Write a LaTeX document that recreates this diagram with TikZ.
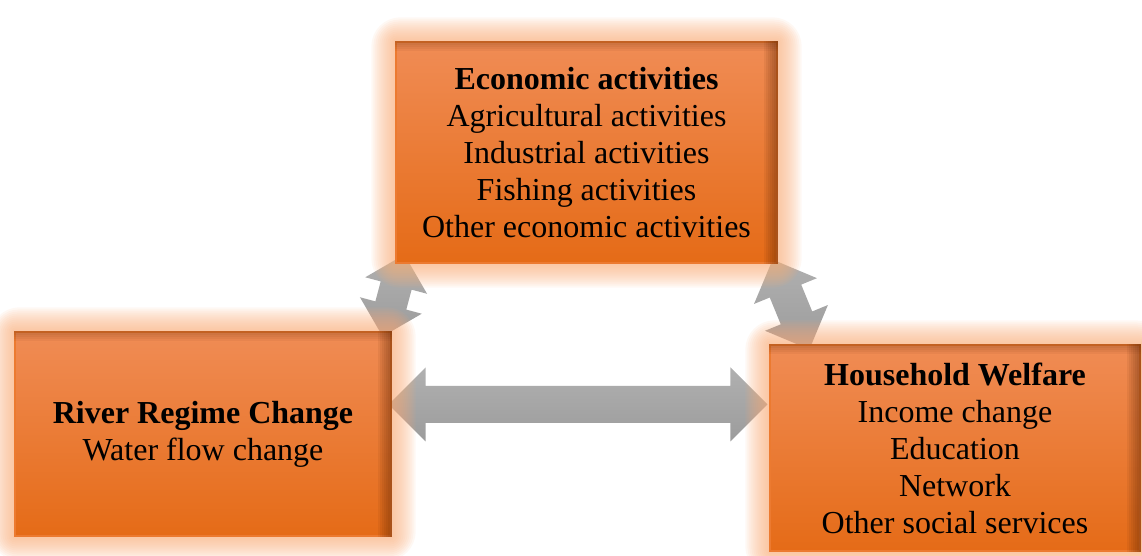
\documentclass[tikz,border=0pt]{standalone}
\usepackage{fontspec}
\setmainfont{Liberation Serif}
\usetikzlibrary{calc,backgrounds}

\definecolor{boxtop}{HTML}{F08C55}
\definecolor{boxbot}{HTML}{E56B17}
\definecolor{boxline}{HTML}{EC7A30}
\definecolor{glowc}{HTML}{F9AC78}
\definecolor{shadowc}{HTML}{5A2404}
\definecolor{arrtop}{HTML}{B0B0B0}
\definecolor{arrbot}{HTML}{9C9C9C}

\tikzset{
  factor/.style={rectangle, draw=boxline, line width=0.6pt,
    top color=boxtop, bottom color=boxbot, align=center, inner sep=0pt,
    font=\fontsize{16}{18.5}\selectfont},
}

% block arrow with a head at both ends, #3 = half width of the heads (pt)
\newcommand\twoway[3]{%
  \pgfmathanglebetweenpoints{\pgfpointanchor{#1}{center}}{\pgfpointanchor{#2}{center}}%
  \let\arrang\pgfmathresult
  \pgfpointdiff{\pgfpointanchor{#1}{center}}{\pgfpointanchor{#2}{center}}%
  \pgfgetlastxy{\dx}{\dy}%
  \pgfmathveclen{\dx}{\dy}\let\arrlen\pgfmathresult
  \begin{scope}[shift={(#1)}, rotate=\arrang, x=1pt, y=1pt]
    \shade[top color=arrtop, bottom color=arrbot]
      (0,0) -- (#3,#3) -- (#3,#3/2) -- ({\arrlen-#3},#3/2) -- ({\arrlen-#3},#3)
      -- (\arrlen,0) -- ({\arrlen-#3},-#3) -- ({\arrlen-#3},-#3/2)
      -- (#3,-#3/2) -- (#3,-#3) -- cycle;
  \end{scope}}

% soft orange halo round a box
\newcommand\glow[1]{%
  \foreach \i in {1,...,12}
    \fill[glowc, opacity=0.085, rounded corners=1.2*\i pt]
      ($(#1.north west)+(-2*\i,-2*\i)$) rectangle ($(#1.south east)+(2*\i,2*\i)$);}

% dark band inside the top and right edges
\newcommand\innershade[1]{%
  \foreach \i in {1,...,7}
    \fill[shadowc, opacity=0.08] ($(#1.north east)+(-2*\i,0)$) rectangle (#1.south east);
  \foreach \i in {1,...,5}
    \fill[shadowc, opacity=0.06] (#1.north west) rectangle ($(#1.north east)+(0,2*\i)$);}

\begin{document}
\begin{tikzpicture}[x=0.5pt,y=-0.5pt]
\useasboundingbox (0,0) rectangle (1142,556);

\node[factor, minimum width=190.5pt, minimum height=110.5pt] (econ) at (586.5,152.5)
  {\textbf{Economic activities}\\ Agricultural activities\\ Industrial activities\\
   Fishing activities\\ Other economic activities};
\node[factor, minimum width=188pt, minimum height=102pt] (river) at (203,434)
  {\textbf{River Regime Change}\\ Water flow change};
\node[factor, minimum width=185pt, minimum height=103pt] (welfare) at (955,448)
  {\textbf{Household Welfare}\\ Income change\\ Education\\ Network\\ Other social services};

\coordinate (rr) at ($(river.north east)+(-3,73)$);
\coordinate (wl) at ($(welfare.north west)+(-2,60)$);
\coordinate (rn) at ($(river.north east)+(-9,5)$);
\coordinate (es) at ($(econ.south west)+(9,-9)$);
\coordinate (ee) at ($(econ.south east)+(-5,-4)$);
\coordinate (wn) at ($(welfare.north west)+(40,5)$);

\begin{pgfonlayer}{background}
  \twoway{rr}{wl}{18.5}
  \twoway{rn}{es}{16}
  \twoway{ee}{wn}{17}
  \glow{econ} \glow{river} \glow{welfare}
\end{pgfonlayer}

\innershade{econ} \innershade{river} \innershade{welfare}
\end{tikzpicture}
\end{document}
